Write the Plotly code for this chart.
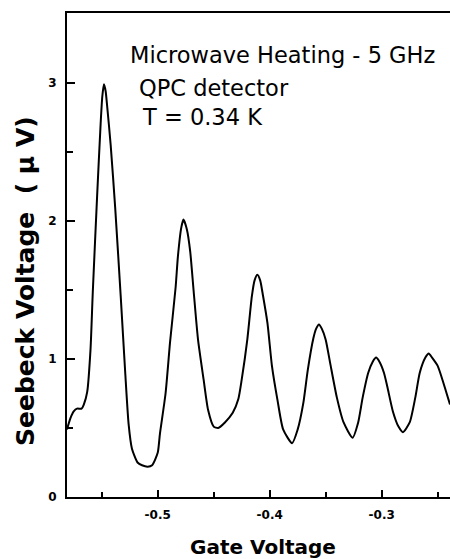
import plotly.graph_objects as go

# Seebeck voltage vs gate voltage
gate_voltage = [
    -0.581, -0.578, -0.575, -0.572, -0.568, -0.566, -0.563, -0.560, -0.558,
    -0.554, -0.551, -0.5495, -0.548, -0.5465, -0.545, -0.542, -0.538, -0.533,
    -0.529, -0.526, -0.523, -0.518, -0.514, -0.509, -0.505, -0.500, -0.498,
    -0.493, -0.489, -0.484, -0.482, -0.479, -0.477, -0.474,
    -0.471, -0.468, -0.464, -0.459, -0.455, -0.450, -0.446, -0.440, -0.433,
    -0.428, -0.425, -0.420, -0.416, -0.4135, -0.411, -0.4085, -0.406, -0.402,
    -0.398, -0.393, -0.388, -0.380,
    -0.375, -0.370, -0.366, -0.361, -0.3585, -0.356, -0.3535, -0.350, -0.346,
    -0.340, -0.334, -0.326, -0.321, -0.317, -0.312, -0.308, -0.305, -0.302,
    -0.298, -0.295, -0.290, -0.285, -0.281, -0.275, -0.270, -0.266, -0.261,
    -0.258, -0.255, -0.250, -0.245, -0.239,
]
seebeck_uv = [
    0.49, 0.57, 0.62, 0.64, 0.64, 0.67, 0.76, 1.07, 1.48,
    2.20, 2.70, 2.90, 2.99, 2.94, 2.82, 2.55, 2.10, 1.45,
    0.90, 0.53, 0.35, 0.25, 0.23, 0.22, 0.23, 0.32, 0.46,
    0.75, 1.12, 1.52, 1.74, 1.95, 2.01, 1.94,
    1.78, 1.50, 1.14, 0.85, 0.63, 0.51, 0.50, 0.54, 0.61,
    0.71, 0.85, 1.14, 1.45, 1.57, 1.61, 1.57, 1.46, 1.26,
    0.95, 0.70, 0.49, 0.39,
    0.49, 0.68, 0.92, 1.15, 1.22, 1.25, 1.22, 1.14, 0.97,
    0.72, 0.54, 0.43, 0.54, 0.72, 0.90, 0.98, 1.01, 0.98,
    0.90, 0.80, 0.62, 0.51, 0.47, 0.54, 0.72, 0.90, 1.01,
    1.04, 1.01, 0.95, 0.83, 0.67,
]

x_ticks = [-0.5, -0.4, -0.3]
x_tick_text = ["-0.5", "-0.4", "-0.3"]
x_minor = [-0.55, -0.45, -0.35, -0.25]
y_ticks = [0, 1, 2, 3]
y_minor = [0.5, 1.5, 2.5]

label_lines = ["Microwave Heating - 5 GHz", "QPC detector", "T = 0.34 K"]

fig = go.Figure()

fig.add_trace(go.Scatter(
    x=gate_voltage,
    y=seebeck_uv,
    mode="lines",
    line=dict(color="black", width=2, shape="spline", smoothing=0.6),
    showlegend=False,
))

tick_font = dict(family="DejaVu Sans", size=12, color="black", weight="bold")

fig.update_xaxes(
    range=[-0.581, -0.239],
    tickvals=x_ticks,
    ticktext=x_tick_text,
    ticks="inside", ticklen=7, tickwidth=2, tickcolor="black",
    minor=dict(tickvals=x_minor, ticks="inside", ticklen=5, tickwidth=2, tickcolor="black"),
    showline=True, linewidth=2, linecolor="black", mirror=True,
    showgrid=False, zeroline=False,
    tickfont=tick_font,
    ticklabelstandoff=6,
)
fig.update_yaxes(
    range=[0, 3.507],
    tickvals=y_ticks,
    ticks="inside", ticklen=8, tickwidth=2, tickcolor="black",
    minor=dict(tickvals=y_minor, ticks="inside", ticklen=6, tickwidth=2, tickcolor="black"),
    showline=True, linewidth=2, linecolor="black",
    showgrid=False, zeroline=False,
    tickfont=tick_font,
    ticklabelstandoff=6,
)

# text block in the upper part of the plot
for txt, xp, yp in zip(label_lines, [0.159, 0.183, 0.191], [0.913, 0.845, 0.785]):
    fig.add_annotation(
        text=txt, xref="paper", yref="paper", x=xp, y=yp,
        xanchor="left", yanchor="middle", showarrow=False,
        font=dict(family="DejaVu Sans", size=22.5, color="black"),
    )

# axis titles
fig.add_annotation(
    text="Gate Voltage", xref="paper", yref="paper", x=0.512, y=-0.103,
    xanchor="center", yanchor="middle", showarrow=False,
    font=dict(family="DejaVu Sans", size=20, color="black", weight="bold"),
)
fig.add_annotation(
    text="Seebeck Voltage  ( \u00b5 V)", xref="paper", yref="paper", x=-0.110, y=0.446,
    xanchor="center", yanchor="middle", textangle=-90, showarrow=False,
    font=dict(family="DejaVu Sans", size=25, color="black", weight="bold"),
)

fig.update_layout(
    width=450, height=559,
    margin=dict(l=67, r=0, t=13, b=62),
    plot_bgcolor="white",
    paper_bgcolor="white",
)

# page has a default 8px body margin; drop it so the figure fills the window
fig.write_html(
    "out.html",
    config={"displayModeBar": False},
    post_script="document.body.style.margin='0';document.body.style.overflow='hidden';",
)
